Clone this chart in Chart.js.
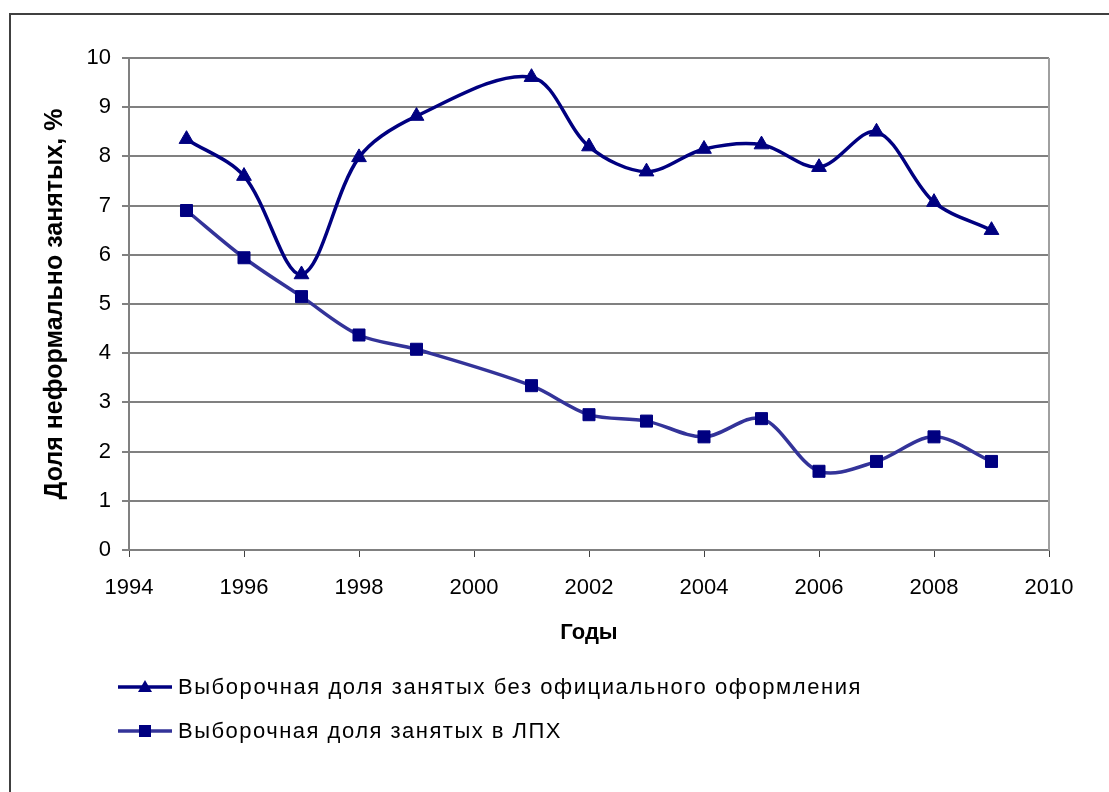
<!DOCTYPE html>
<html lang="ru">
<head>
<meta charset="utf-8">
<title>Доля неформально занятых</title>
<script src="https://cdn.jsdelivr.net/npm/chart.js@4.4.1/dist/chart.umd.min.js"></script>
<style>
  html, body { margin: 0; padding: 0; background: #fff; }
  #wrap { position: relative; width: 1109px; height: 792px; }
</style>
</head>
<body>
<div id="wrap"><canvas id="chart"></canvas></div>
<script>
// ─── Data ───────────────────────────────
const years = [1995, 1996, 1997, 1998, 1999, 2001, 2002, 2003, 2004, 2005, 2006, 2007, 2008, 2009];
const informalShare = [8.35, 7.6, 5.6, 7.98, 8.82, 9.61, 8.2, 7.69, 8.15, 8.24, 7.78, 8.5, 7.07, 6.5];
const lphShare = [6.9, 5.94, 5.15, 4.37, 4.08, 3.34, 2.75, 2.62, 2.3, 2.67, 1.6, 1.8, 2.3, 1.8];
const seriesNames = [
  "Выборочная доля занятых без официального оформления",
  "Выборочная доля занятых в ЛПХ",
];
const xTicks = [1994, 1996, 1998, 2000, 2002, 2004, 2006, 2008, 2010];
const yTicks = [0, 1, 2, 3, 4, 5, 6, 7, 8, 9, 10];

const FONT = "Arial, 'Liberation Sans', sans-serif";
Chart.defaults.font.family = FONT;
Chart.defaults.color = "#000";

// ─── Plugins: frame + legend under the chart ───
const frame = {
  id: "frame",
  beforeDraw(chart) {
    const ctx = chart.ctx;
    ctx.save();
    ctx.fillStyle = "#fff";
    ctx.fillRect(0, 0, chart.width, chart.height);
    ctx.strokeStyle = "#404040";
    ctx.lineWidth = 2;
    ctx.strokeRect(10, 14, chart.width + 20, chart.height + 20);
    ctx.restore();
  },
  afterDatasetsDraw(chart) {
    const { ctx, chartArea: a } = chart;
    ctx.save();
    ctx.strokeStyle = "#a0a0a0";
    ctx.lineWidth = 2;
    ctx.beginPath();
    ctx.moveTo(a.right, a.top);
    ctx.lineTo(a.right, a.bottom);
    ctx.stroke();
    ctx.restore();
  },
};

function marker(ctx, style, x, y, color) {
  ctx.fillStyle = color;
  ctx.beginPath();
  if (style === "triangle") {
    ctx.moveTo(x, y - 7);
    ctx.lineTo(x + 7, y + 5);
    ctx.lineTo(x - 7, y + 5);
    ctx.closePath();
  } else {
    ctx.rect(x - 6, y - 6, 12, 12);
  }
  ctx.fill();
}

const legendBelow = {
  id: "legendBelow",
  afterDraw(chart) {
    const ctx = chart.ctx;
    const rows = [{ y: 687, w: 684 }, { y: 731, w: 384 }];
    chart.data.datasets.forEach((ds, i) => {
      const y = rows[i].y;
      ctx.save();
      ctx.strokeStyle = ds.borderColor;
      ctx.lineWidth = 3.5;
      ctx.beginPath();
      ctx.moveTo(118, y);
      ctx.lineTo(172, y);
      ctx.stroke();
      marker(ctx, ds.pointStyle, 145, y, ds.pointBackgroundColor);
      ctx.font = "22px " + FONT;
      ctx.fillStyle = "#000";
      ctx.textBaseline = "middle";
      const txt = ds.label;
      const raw = ctx.measureText(txt).width;
      ctx.letterSpacing = Math.max(0, (rows[i].w - raw) / txt.length) + "px";
      ctx.fillText(txt, 178, y + 1);
      ctx.restore();
    });
  },
};

// ─── Chart ──────────────────────────────
new Chart(document.getElementById("chart"), {
  type: "line",
  data: {
    datasets: [
      {
        label: seriesNames[0],
        data: years.map((x, i) => ({ x, y: informalShare[i] })),
        borderColor: "#000080",
        borderWidth: 3.5,
        pointStyle: "triangle",
        pointRadius: 8.5,
        pointBackgroundColor: "#000080",
        pointBorderColor: "#000080",
        pointBorderWidth: 1,
        tension: 0.33,
      },
      {
        label: seriesNames[1],
        data: years.map((x, i) => ({ x, y: lphShare[i] })),
        borderColor: "#333399",
        borderWidth: 3.5,
        pointStyle: "rect",
        pointRadius: 8.5,
        pointBackgroundColor: "#000080",
        pointBorderColor: "#000080",
        pointBorderWidth: 1,
        tension: 0.33,
      },
    ],
  },
  options: {
    responsive: true,
    maintainAspectRatio: false,
    animation: false,
    layout: { padding: { top: 58, left: 0, right: 60, bottom: 142 } },
    plugins: { legend: { display: false }, tooltip: { enabled: false } },
    scales: {
      x: {
        type: "linear",
        min: 1994,
        max: 2010,
        afterBuildTicks: s => { s.ticks = xTicks.map(v => ({ value: v })); },
        afterFit: s => { s.height = 100; },
        ticks: { font: { size: 22 }, padding: 18, maxRotation: 0, callback: v => String(v) },
        grid: { drawOnChartArea: false, drawTicks: true, tickLength: 7, color: "#404040", lineWidth: 1 },
        border: { color: "#808080", width: 2 },
        title: { display: true, text: "Годы", font: { size: 22, weight: "bold" }, padding: { top: 0, bottom: 4 } },
      },
      y: {
        min: 0,
        max: 10,
        afterBuildTicks: s => { s.ticks = yTicks.map(v => ({ value: v })); },
        afterFit: s => { s.width = 129; },
        ticks: { font: { size: 22 }, padding: 11 },
        grid: { color: "#808080", lineWidth: 2, tickLength: 7 },
        border: { color: "#808080", width: 2 },
        title: { display: true, text: "Доля неформально занятых, %", font: { size: 25, weight: "bold" }, padding: { top: 40, bottom: 0 } },
      },
    },
  },
  plugins: [frame, legendBelow],
});
</script>
</body>
</html>
